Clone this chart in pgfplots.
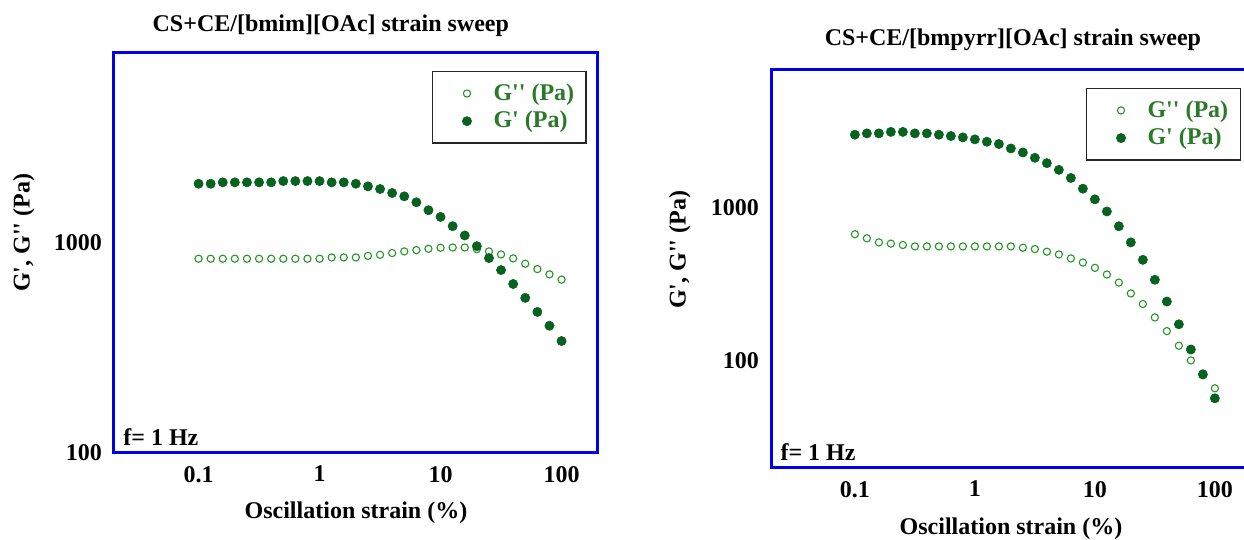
\documentclass[border=0pt]{standalone}
\usepackage{fontspec}
\setmainfont{Liberation Serif}
\usepackage{pgfplots}
\usepackage{pgfplotstable}
\pgfplotsset{compat=1.18}

\definecolor{gfill}{RGB}{6,98,30}
\definecolor{gopen}{RGB}{38,150,38}
\definecolor{legtext}{RGB}{42,122,42}
\definecolor{frameblue}{RGB}{0,0,235}

\newcommand{\lbl}{\bfseries\fontsize{12}{14}\selectfont}
\newcommand{\qs}{\textquotesingle}

% strain (%), G' (Pa), G'' (Pa)
\pgfplotstableread{
x       Gp     Gpp
0.1     1910   840
0.1259  1910   840
0.1585  1940   840
0.1995  1940   840
0.2512  1940   840
0.3162  1940   840
0.3981  1940   840
0.5012  1967   840
0.6310  1967   840
0.7943  1967   840
1       1967   840
1.259   1940   852
1.585   1940   852
1.995   1910   852
2.512   1856   867
3.162   1803   877
3.981   1726   894
5.012   1664   910
6.310   1559   923
7.943   1429   937
10      1328   947
12.59   1200   950
15.85   1084   950
19.95   964    933
25.12   846    910
31.62   742    881
39.81   637    843
50.12   547    795
63.10   469    750
79.43   403    708
100     341    668
}\bmim

\pgfplotstableread{
x       Gp     Gpp
0.1     3020   675
0.1259  3080   635
0.1585  3080   597
0.1995  3150   586
0.2512  3150   574
0.3162  3080   562
0.3981  3080   562
0.5012  3020   562
0.6310  2960   562
0.7943  2900   562
1       2815   562
1.259   2717   562
1.585   2625   562
1.995   2455   562
2.512   2311   551
3.162   2133   540
3.981   1968   519
5.012   1778   498
6.310   1575   469
7.943   1340   441
10      1141   407
12.59   951    368
15.85   761    326
19.95   597    277
25.12   459    236
31.62   340    193
39.81   245    157
50.12   174    126
63.10   119    101
79.43   81.7   83
100     57.1   66.4
}\bmpyrr

\begin{document}
\begin{tikzpicture}
\begin{axis}[
  xmode=log, ymode=log,
  scale only axis,
  at={(57pt,43.5pt)}, anchor=south west,
  width=242pt, height=200pt,
  xmin=0.02, xmax=200,
  ymin=100, ymax=8000,
  axis line style={frameblue, line width=1.5pt},
  major tick length=0pt, minor tick length=0pt,
  xtick={0.1,1,10,100},
  xticklabels={0.1,1,10,100},
  ytick={100,1000},
  yticklabels={100,1000},
  tick label style={font=\lbl},
  xticklabel style={yshift=-3pt},
  yticklabel style={xshift=-2.5pt},
  title={CS+CE/[bmim][OAc] strain sweep},
  every axis title/.style={font=\lbl, anchor=center, at={(axis description cs:0.448,1.0675)}},
  xlabel={Oscillation strain (\%)},
  ylabel={G\qs, G\qs\qs\ (Pa)},
  xlabel style={font=\lbl, at={(axis description cs:0.5,-0.15)}, anchor=center},
  ylabel style={font=\lbl, at={(axis description cs:-0.186,0.55)}, anchor=center},
  legend cell align=left,
  legend image code/.code={\path (0pt,0pt) (24pt,0pt); \draw[#1] plot coordinates {(13pt,0pt)};},
  legend style={draw=black!85, line width=0.7pt, anchor=north east,
    font=\lbl, text=legtext, inner xsep=4pt, inner ysep=4pt,
    at={(axis description cs:0.977,0.955)}},
]
\addplot[only marks, mark=o, mark size=1.8pt, draw=gopen, line width=0.55pt] table[x=x, y=Gpp] {\bmim};
\addlegendentry{G\qs\qs\ (Pa)}
\addplot[only marks, mark=*, mark size=2.3pt, draw=gfill, fill=gfill, line width=0.3pt] table[x=x, y=Gp] {\bmim};
\addlegendentry{G\qs\ (Pa)}
\node[anchor=west, inner sep=0pt, font=\lbl] at (axis description cs:0.0186,0.04) {f= 1 Hz};
\end{axis}

\begin{axis}[
  xmode=log, ymode=log,
  scale only axis,
  at={(385.5pt,36pt)}, anchor=south west,
  width=240pt, height=199pt,
  xmin=0.02, xmax=200,
  ymin=20, ymax=8000,
  axis line style={frameblue, line width=1.5pt},
  major tick length=0pt, minor tick length=0pt,
  xtick={0.1,1,10,100},
  xticklabels={0.1,1,10,100},
  ytick={100,1000},
  yticklabels={100,1000},
  tick label style={font=\lbl},
  xticklabel style={yshift=-3pt},
  yticklabel style={xshift=-2.5pt},
  title={CS+CE/[bmpyrr][OAc] strain sweep},
  every axis title/.style={font=\lbl, anchor=center, at={(axis description cs:0.504,1.0754)}},
  xlabel={Oscillation strain (\%)},
  ylabel={G\qs, G\qs\qs\ (Pa)},
  xlabel style={font=\lbl, at={(axis description cs:0.5,-0.1535)}, anchor=center},
  ylabel style={font=\lbl, at={(axis description cs:-0.19,0.548)}, anchor=center},
  legend cell align=left,
  legend image code/.code={\path (0pt,0pt) (24pt,0pt); \draw[#1] plot coordinates {(13pt,0pt)};},
  legend style={draw=black!85, line width=0.7pt, anchor=north east,
    font=\lbl, text=legtext, inner xsep=4pt, inner ysep=4pt,
    at={(axis description cs:0.979,0.955)}},
]
\addplot[only marks, mark=o, mark size=1.8pt, draw=gopen, line width=0.55pt] table[x=x, y=Gpp] {\bmpyrr};
\addlegendentry{G\qs\qs\ (Pa)}
\addplot[only marks, mark=*, mark size=2.3pt, draw=gfill, fill=gfill, line width=0.3pt] table[x=x, y=Gp] {\bmpyrr};
\addlegendentry{G\qs\ (Pa)}
\node[anchor=west, inner sep=0pt, font=\lbl] at (axis description cs:0.019,0.04) {f= 1 Hz};
\end{axis}

\pgfresetboundingbox
\path[use as bounding box] (0,0) rectangle (622pt,270pt);
\end{tikzpicture}
\end{document}
